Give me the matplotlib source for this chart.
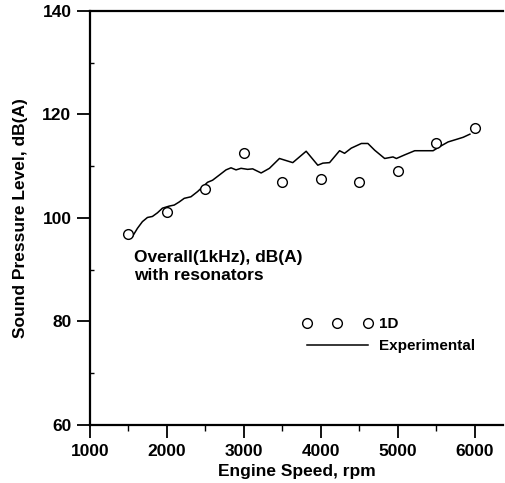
import matplotlib
matplotlib.use("Agg")
import matplotlib.pyplot as plt
from matplotlib.ticker import MultipleLocator
from matplotlib.lines import Line2D

plt.rcParams['font.family'] = ['Liberation Sans', 'DejaVu Sans']

# 1D simulation points
rpm_1d = [1500, 2000, 2500, 3000, 3500, 4000, 4500, 5000, 5500, 6000]
spl_1d = [96.9, 101.2, 105.6, 112.5, 106.9, 107.5, 106.9, 109.1, 114.5, 117.4]

# Experimental curve
rpm_exp = [1551, 1616, 1681, 1746, 1811, 1876, 1941, 2029, 2094, 2159, 2224, 2311,
           2397, 2462, 2527, 2592, 2680, 2767, 2832, 2897, 2962, 3048, 3113, 3223,
           3331, 3461, 3634, 3808, 3959, 4025, 4112, 4242, 4307, 4394, 4525, 4610,
           4698, 4828, 4936, 4980, 5088, 5218, 5457, 5544, 5652, 5762, 5848, 5935]
spl_exp = [96.4, 98.0, 99.3, 100.1, 100.3, 101.0, 101.9, 102.3, 102.5, 103.1, 103.8, 104.1,
           105.1, 106.0, 106.9, 107.3, 108.3, 109.3, 109.7, 109.3, 109.6, 109.4, 109.5, 108.7,
           109.6, 111.5, 110.7, 112.9, 110.2, 110.6, 110.7, 113.0, 112.5, 113.5, 114.4, 114.4,
           113.1, 111.5, 111.8, 111.5, 112.2, 113.0, 113.0, 113.8, 114.7, 115.2, 115.6, 116.2]

x_ticks = [1000, 2000, 3000, 4000, 5000, 6000]
y_ticks = [60, 80, 100, 120, 140]

fig = plt.figure(figsize=(5.05, 4.83), dpi=100)
ax = fig.add_axes([90/505, 1 - 425/483, (503 - 90)/505, (425 - 11)/483])

ax.plot(rpm_exp, spl_exp, color='black', lw=1.1)
ax.plot(rpm_1d, spl_1d, linestyle='none', marker='o', markersize=7,
        markerfacecolor='white', markeredgecolor='black', markeredgewidth=1.0)

ax.set_xlim(1000, 6365)
ax.set_ylim(60, 140)
ax.set_xticks(x_ticks)
ax.set_yticks(y_ticks)
ax.xaxis.set_minor_locator(MultipleLocator(500))
ax.yaxis.set_minor_locator(MultipleLocator(10))
ax.tick_params(axis='x', which='major', direction='out', length=9.4, width=1.3, pad=4)
ax.tick_params(axis='x', which='minor', direction='out', length=4.5, width=1.0)
ax.tick_params(axis='y', which='major', direction='out', length=9.4, width=1.3, pad=4)
ax.tick_params(axis='y', which='minor', direction='in', length=3, width=1.0)
for lab in ax.get_xticklabels() + ax.get_yticklabels():
    lab.set_fontweight('bold')
    lab.set_fontsize(12.5)
ax.spines['right'].set_visible(False)
for s in ['left', 'bottom', 'top']:
    ax.spines[s].set_linewidth(1.6)

ax.set_xlabel('Engine Speed, rpm', fontsize=12.5, fontweight='bold', labelpad=4)
ax.set_ylabel('Sound Pressure Level, dB(A)', fontsize=12.5, fontweight='bold', labelpad=10)

ax.text(134/505, 1 - 266.5/483, 'Overall(1kHz), dB(A)\nwith resonators',
        transform=fig.transFigure, fontsize=12.5, fontweight='bold',
        va='center', ha='left', linespacing=1.25)

handles = [Line2D([], [], linestyle='none', marker='o', markersize=7,
                  markerfacecolor='white', markeredgecolor='black', markeredgewidth=1.0),
           Line2D([], [], color='black', lw=1.1)]
ax.legend(handles, ['1D', 'Experimental'], numpoints=3, frameon=False,
          prop={'weight': 'bold', 'size': 11}, handlelength=4.6, handletextpad=0.45,
          labelspacing=0.55, borderpad=0, borderaxespad=0,
          loc='upper left', bbox_to_anchor=(302/505, 1 - 317/483),
          bbox_transform=fig.transFigure)

fig.savefig('out.png', dpi=100)
